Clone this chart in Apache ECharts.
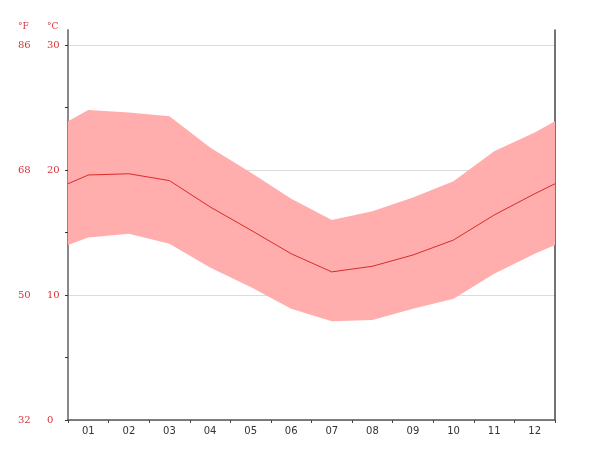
<!DOCTYPE html>
<html>
<head>
<meta charset="utf-8">
<script src="https://cdn.jsdelivr.net/npm/echarts@6/dist/echarts.min.js"></script>
<style>html,body{margin:0;padding:0;background:#fff}#c{width:600px;height:450px}</style>
</head>
<body>
<div id="c"></div>
<script>
// ---- data ----
const months = ['01','02','03','04','05','06','07','08','09','10','11','12'];
const monthNum = [1,2,3,4,5,6,7,8,9,10,11,12];
const meanC = [19.6, 19.7, 19.15, 17.05, 15.2, 13.3, 11.85, 12.3, 13.2, 14.4, 16.4, 18.1];
const maxC  = [24.8, 24.6, 24.3, 21.8, 19.8, 17.7, 16.0, 16.7, 17.8, 19.1, 21.5, 23.0];
const minC  = [14.6, 14.9, 14.1, 12.2, 10.65, 8.9, 7.9, 8.0, 8.9, 9.7, 11.7, 13.3];
// values at the left/right edges of the plot
const edgeMean = 18.9, edgeMax = 23.9, edgeMin = 14.0;
const celsiusTicks = [0, 5, 10, 15, 20, 25, 30];
const celsiusLabels = [0, 10, 20, 30];
const fahrenheitLabels = [32, 50, 68, 86];

const xStart = 0.5, xEnd = 12.5;
const cTop = 31.2;
const fTop = 32 + cTop * 1.8;

const linePts = [[xStart, edgeMean]].concat(monthNum.map((m, i) => [m, meanC[i]]), [[xEnd, edgeMean]]);
const upperPts = [[xStart, edgeMax]].concat(monthNum.map((m, i) => [m, maxC[i]]), [[xEnd, edgeMax]]);
const lowerPts = [[xStart, edgeMin]].concat(monthNum.map((m, i) => [m, minC[i]]), [[xEnd, edgeMin]]);

const RED = '#d8333b';
const chart = echarts.init(document.getElementById('c'), null, {renderer: 'canvas'});
chart.setOption({
  animation: false,
  backgroundColor: '#fff',
  title: [
    {text: '°F', left: 18, top: 22, padding: 0, textStyle: {fontSize: 9, color: RED, fontWeight: 'normal', fontFamily: 'DejaVu Serif'}},
    {text: '°C', left: 47, top: 22, padding: 0, textStyle: {fontSize: 9, color: RED, fontWeight: 'normal', fontFamily: 'DejaVu Serif'}}
  ],
  grid: {left: 68, right: 45, top: 30, bottom: 30},
  xAxis: [
    {
      type: 'category', data: months, boundaryGap: true,
      axisLine: {lineStyle: {color: '#555', width: 1.5}},
      axisTick: {show: true, length: 3, lineStyle: {color: '#444'}},
      axisLabel: {color: '#333', fontSize: 10, margin: 6, fontFamily: 'DejaVu Sans'},
      splitLine: {show: false}
    },
    {type: 'value', min: xStart, max: xEnd, show: false}
  ],
  yAxis: [
    {
      type: 'value', min: 0, max: cTop, position: 'left',
      axisLine: {show: true, lineStyle: {color: '#888', width: 2}},
      axisTick: {show: true, length: 3, customValues: celsiusTicks, lineStyle: {color: '#333'}},
      axisLabel: {customValues: celsiusLabels, color: RED, fontSize: 10, align: 'left', margin: 21, fontFamily: 'DejaVu Serif'},
      splitLine: {show: true, lineStyle: {color: ['#dcdcdc', 'rgba(0,0,0,0)'], width: 1}}
    },
    {
      type: 'value', min: 32, max: fTop, position: 'left',
      axisLine: {show: false}, axisTick: {show: false},
      axisLabel: {customValues: fahrenheitLabels, color: RED, fontSize: 10, align: 'left', margin: 50, fontFamily: 'DejaVu Serif'},
      splitLine: {show: false}
    },
    {
      type: 'value', min: 0, max: cTop, position: 'right',
      axisLine: {show: true, lineStyle: {color: '#444', width: 1.5}},
      axisTick: {show: false}, axisLabel: {show: false}, splitLine: {show: false}
    }
  ],
  series: [
    {
      type: 'custom', xAxisIndex: 1, yAxisIndex: 0, silent: true, z: 1,
      data: [[1, 0]],
      renderItem: function (params, api) {
        const pts = upperPts.map(p => api.coord(p));
        for (let i = lowerPts.length - 1; i >= 0; i--) pts.push(api.coord(lowerPts[i]));
        return {type: 'polygon', shape: {points: pts}, style: {fill: '#ffadad'}};
      }
    },
    {
      type: 'line', xAxisIndex: 1, yAxisIndex: 0, z: 3,
      data: linePts, symbol: 'none', silent: true,
      lineStyle: {color: '#dc2a2a', width: 1}
    }
  ]
});
</script>
</body>
</html>
